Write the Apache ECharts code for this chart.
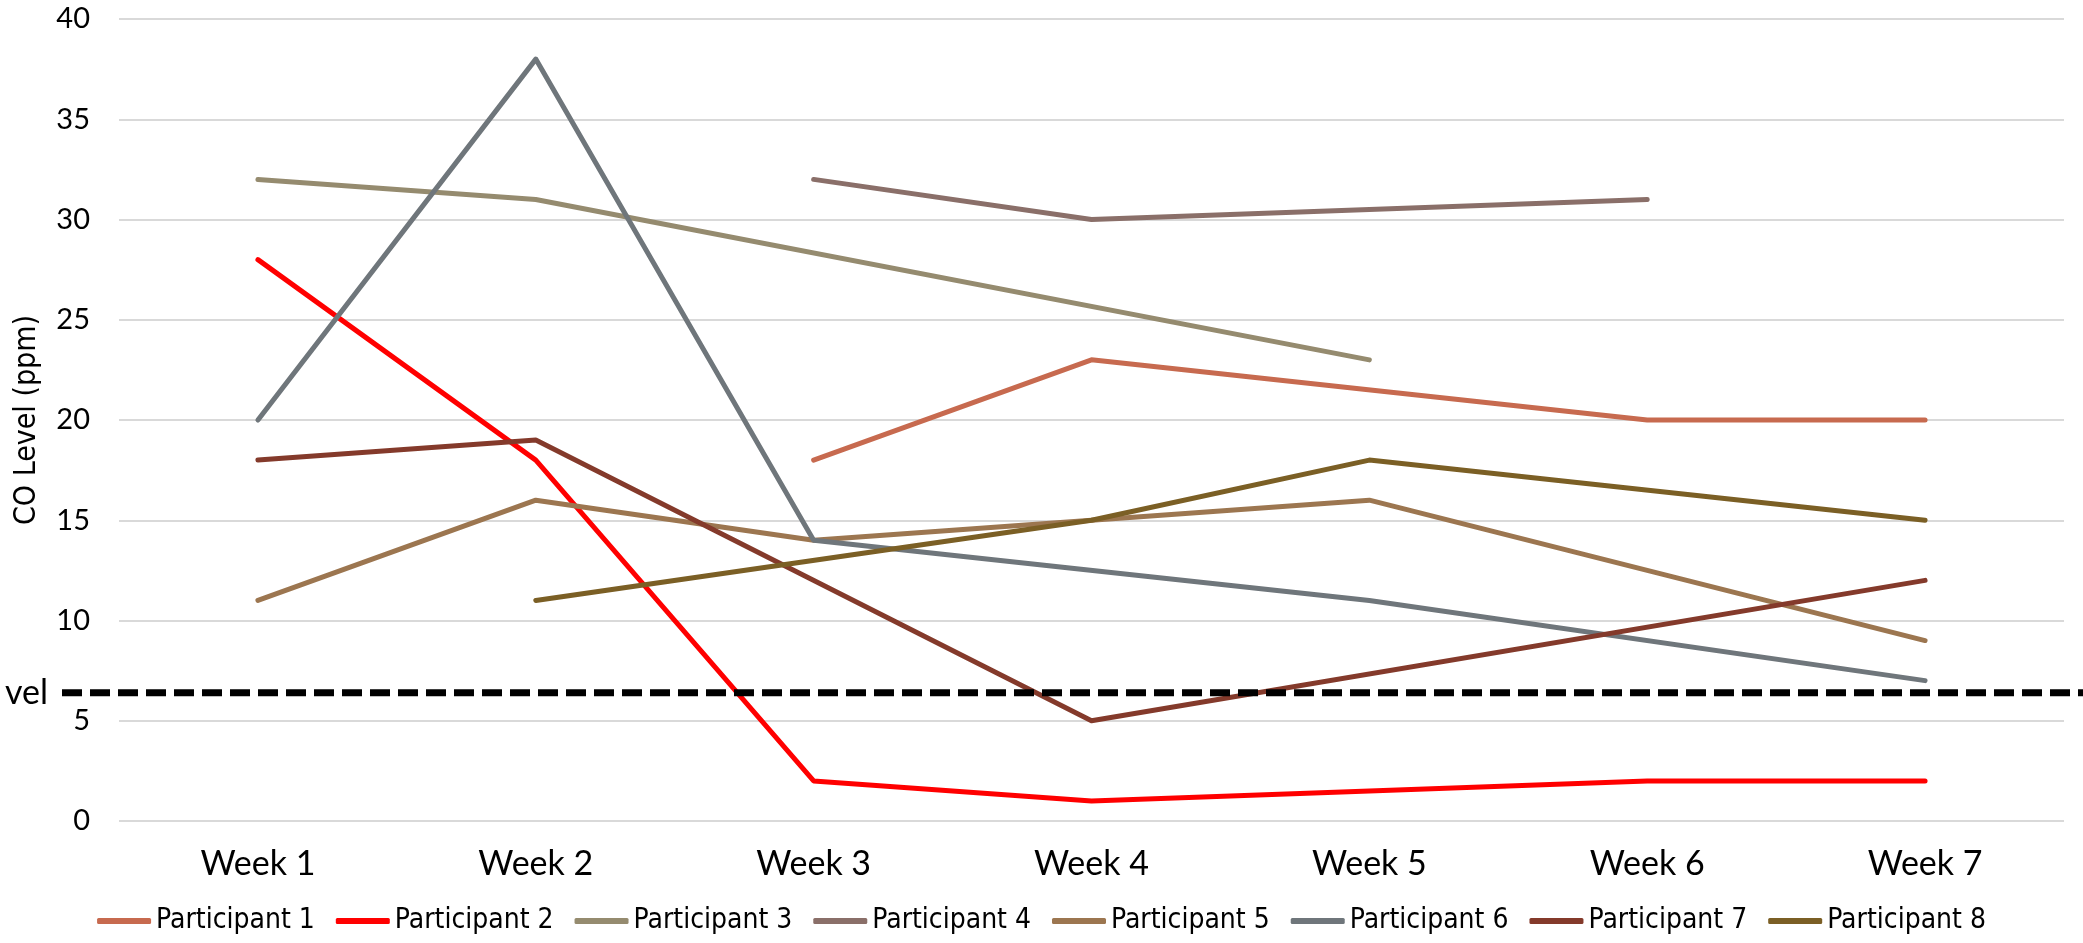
<!DOCTYPE html>
<html>
<head>
<meta charset="utf-8">
<title>CO Level</title>
<script src="https://cdn.jsdelivr.net/npm/echarts@6/dist/echarts.min.js"></script>
<style>
html,body{margin:0;padding:0;background:#fff;}
#main{width:2083px;height:943px;}
</style>
</head>
<body>
<div id="main"></div>
<script>
var weeks = ['Week 1','Week 2','Week 3','Week 4','Week 5','Week 6','Week 7'];
var names = ['Participant 1','Participant 2','Participant 3','Participant 4','Participant 5','Participant 6','Participant 7','Participant 8'];
// null = no reading that week (line is joined across it)
var p1 = [null, null, 18, 23, null, 20, 20];
var p2 = [28, 18, 2, 1, null, 2, 2];
var p3 = [32, 31, null, null, 23, null, null];
var p4 = [null, null, 32, 30, null, 31, null];
var p5 = [11, 16, 14, 15, 16, null, 9];
var p6 = [20, 38, 14, null, 11, null, 7];
var p7 = [18, 19, null, 5, null, null, 12];
var p8 = [null, 11, null, 15, 18, null, 15];
var yTicks = [0, 5, 10, 15, 20, 25, 30, 35, 40];
var threshold = 6.4;//虚线位置
var colors = ['#C76A4F','#FF0000','#958B6F','#8A6F69','#9C7650','#6F767B','#843A2B','#7B5F25'];

var myChart;
var option;
var values = [p1, p2, p3, p4, p5, p6, p7, p8];
var narrowFont = "'Liberation Sans Narrow', 'DejaVu Sans Condensed', sans-serif";

function initEcharts(){
    myChart = echarts.init(document.getElementById('main'));
    var series = [];
    for (var i = 0; i < values.length; i++) {
        series.push({
            name: names[i],
            type: 'line',
            data: values[i],
            connectNulls: true,
            symbol: 'none',
            lineStyle: {width: 5, color: colors[i], cap: 'round', join: 'round'},
            itemStyle: {color: colors[i]}
        });
    }
    option = {
        animation: false,
        color: colors,
        grid: {left: 119, right: 19, top: 19, bottom: 122},
        legend: {
            bottom: 3,
            left: 'center',
            icon: 'roundRect',
            itemWidth: 54,
            itemHeight: 6,
            itemGap: 21,
            data: names,
            textStyle: {fontFamily: narrowFont, fontSize: 28, color: '#000'}
        },
        xAxis: {
            type: 'category',
            data: weeks,
            boundaryGap: true,
            axisLine: {show: false},
            axisTick: {show: false},
            axisLabel: {margin: 26, fontFamily: 'Lato', fontSize: 34, color: '#000'}
        },
        yAxis: {
            type: 'value',
            min: yTicks[0],
            max: yTicks[yTicks.length - 1],
            interval: 5,
            name: 'CO Level (ppm)',
            nameLocation: 'middle',
            nameGap: 77,
            nameTextStyle: {fontFamily: narrowFont, fontSize: 30, color: '#000'},
            axisLabel: {margin: 29, fontFamily: 'Lato', fontSize: 29, color: '#000'},
            splitLine: {lineStyle: {color: '#D9D9D9', width: 2}}
        },
        series: series
    };
    myChart.setOption(option);

    // 虚线 横跨整个图
    var y = myChart.convertToPixel({yAxisIndex: 0}, threshold);
    myChart.setOption({
        graphic: [
            {
                type: 'line',
                shape: {x1: 62, y1: y, x2: 2083, y2: y},
                style: {stroke: '#000', lineWidth: 7, lineDash: [20, 8]},
                z: 100
            },
            {
                type: 'text',
                x: 48,
                y: y,
                style: {text: 'vel', fill: '#000', fontFamily: 'Lato', fontSize: 34, align: 'right', verticalAlign: 'middle'},
                z: 100
            }
        ]
    });
}
initEcharts();
</script>
</body>
</html>
